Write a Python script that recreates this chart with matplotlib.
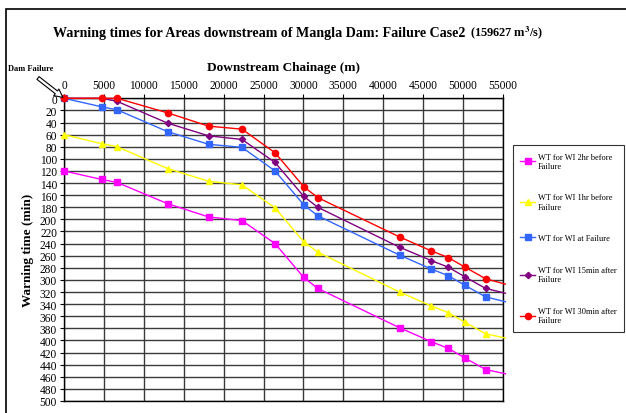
import matplotlib
matplotlib.use("Agg")
import matplotlib.pyplot as plt
from matplotlib.patches import Rectangle

plt.rcParams['font.family'] = ['Liberation Serif', 'DejaVu Serif']
plt.rcParams['mathtext.fontset'] = 'stix'

# chainage of the warning points (m), last one is the line end past the axis
chainage = [0, 4700, 6650, 12970, 18120, 22300, 26440, 30040, 31790,
            42040, 46010, 48140, 50240, 52820, 55300]

# warning times (min)
wt_2hr_before = [120, 134, 139, 174, 196, 202, 240, 296, 314, 379, 402, 413, 429, 448, 455]
wt_1hr_before = [60, 75, 80, 116, 137, 143, 181, 237, 254, 320, 343, 354, 370, 389, 396]
wt_at_failure = [0, 14, 19, 55, 76, 81, 120, 176, 194, 259, 282, 293, 309, 328, 336]
wt_15min_after = [0, 0, 5, 41, 62, 68, 106, 162, 180, 246, 268, 279, 295, 314, 322]
wt_30min_after = [0, 0, 0, 24, 46, 51, 90, 146, 164, 229, 252, 263, 279, 298, 307]

series = [
    ("WT for WI 2hr before\nFailure", wt_2hr_before, "#FF00FF", "s", 4.5),
    ("WT for WI 1hr before\nFailure", wt_1hr_before, "#FFFF00", "^", 4.5),
    ("WT for WI at Failure", wt_at_failure, "#3366FF", "s", 4.5),
    ("WT for WI 15min after\nFailure", wt_15min_after, "#800080", "D", 3.2),
    ("WT for WI 30min after\nFailure", wt_30min_after, "#FF0000", "o", 4.5),
]

x_ticks = list(range(0, 55001, 5000))
y_ticks = list(range(0, 501, 20))

fig = plt.figure(figsize=(6.26, 4.14), dpi=100)
ax = fig.add_axes([64 / 626, 1 - 402 / 414, (503 - 64) / 626, (402 - 99.3) / 414])

for label, vals, col, mk, ms in series:
    ax.plot(chainage, vals, color=col, lw=1.0, marker=mk, markersize=ms,
            markevery=slice(0, len(chainage) - 1), label=label, clip_on=False, zorder=3)

ax.set_xlim(0, 55000)
ax.set_ylim(500, 0)
ax.set_xticks(x_ticks)
ax.set_yticks(y_ticks)
ax.xaxis.tick_top()
ax.xaxis.set_label_position("top")
ax.tick_params(axis="both", labelsize=8.3, length=3, width=0.8, pad=2)
ax.grid(True, color="#3a3a3a", lw=1.0)
for s in ax.spines.values():
    s.set_color("black")
    s.set_linewidth(1.0)

ax.set_xlabel("Downstream Chainage (m)", fontsize=9.5, fontweight="bold", labelpad=7)
ax.set_ylabel("Warning time (min)", fontsize=9.5, fontweight="bold", labelpad=4)

leg = ax.legend(loc="upper left", bbox_to_anchor=(512.5 / 626, 1 - 146 / 414),
                bbox_transform=fig.transFigure, fontsize=6.0, frameon=True,
                fancybox=False, edgecolor="black", labelspacing=2.85,
                handlelength=1.8, handletextpad=0.35, borderpad=0.9,
                borderaxespad=0)
leg.get_frame().set_linewidth(0.8)

# title in two sizes
t1 = fig.text(53 / 626, 1 - 33 / 414, "Warning times for Areas downstream of Mangla Dam: Failure Case2",
              fontsize=10.1, fontweight="bold", va="center", ha="left")
fig.canvas.draw()
bb = t1.get_window_extent(fig.canvas.get_renderer())
fig.text((bb.x1 + 5) / 626, 1 - 33 / 414, r"(159627 m$^\mathbf{3}$/s)", fontsize=8.9,
         fontweight="bold", va="center", ha="left")

# dam failure marker
fig.text(8 / 626, 1 - 69 / 414, "Dam Failure", fontsize=6, fontweight="bold", va="center")
ax.annotate("", xy=(0, 0), xycoords="data", xytext=(38 / 626, 1 - 79 / 414),
            textcoords="figure fraction", annotation_clip=False,
            arrowprops=dict(arrowstyle="simple,head_length=0.6,head_width=0.6,tail_width=0.25",
                            fc="white", ec="black", lw=0.8, shrinkA=0, shrinkB=1))

# outer frame of the chart
fig.patches.append(Rectangle((6 / 626, -0.1), 1.1, 1 - 9.5 / 414 + 0.1, transform=fig.transFigure,
                             fill=False, ec="black", lw=1.2))

fig.savefig("out.png", dpi=100)
